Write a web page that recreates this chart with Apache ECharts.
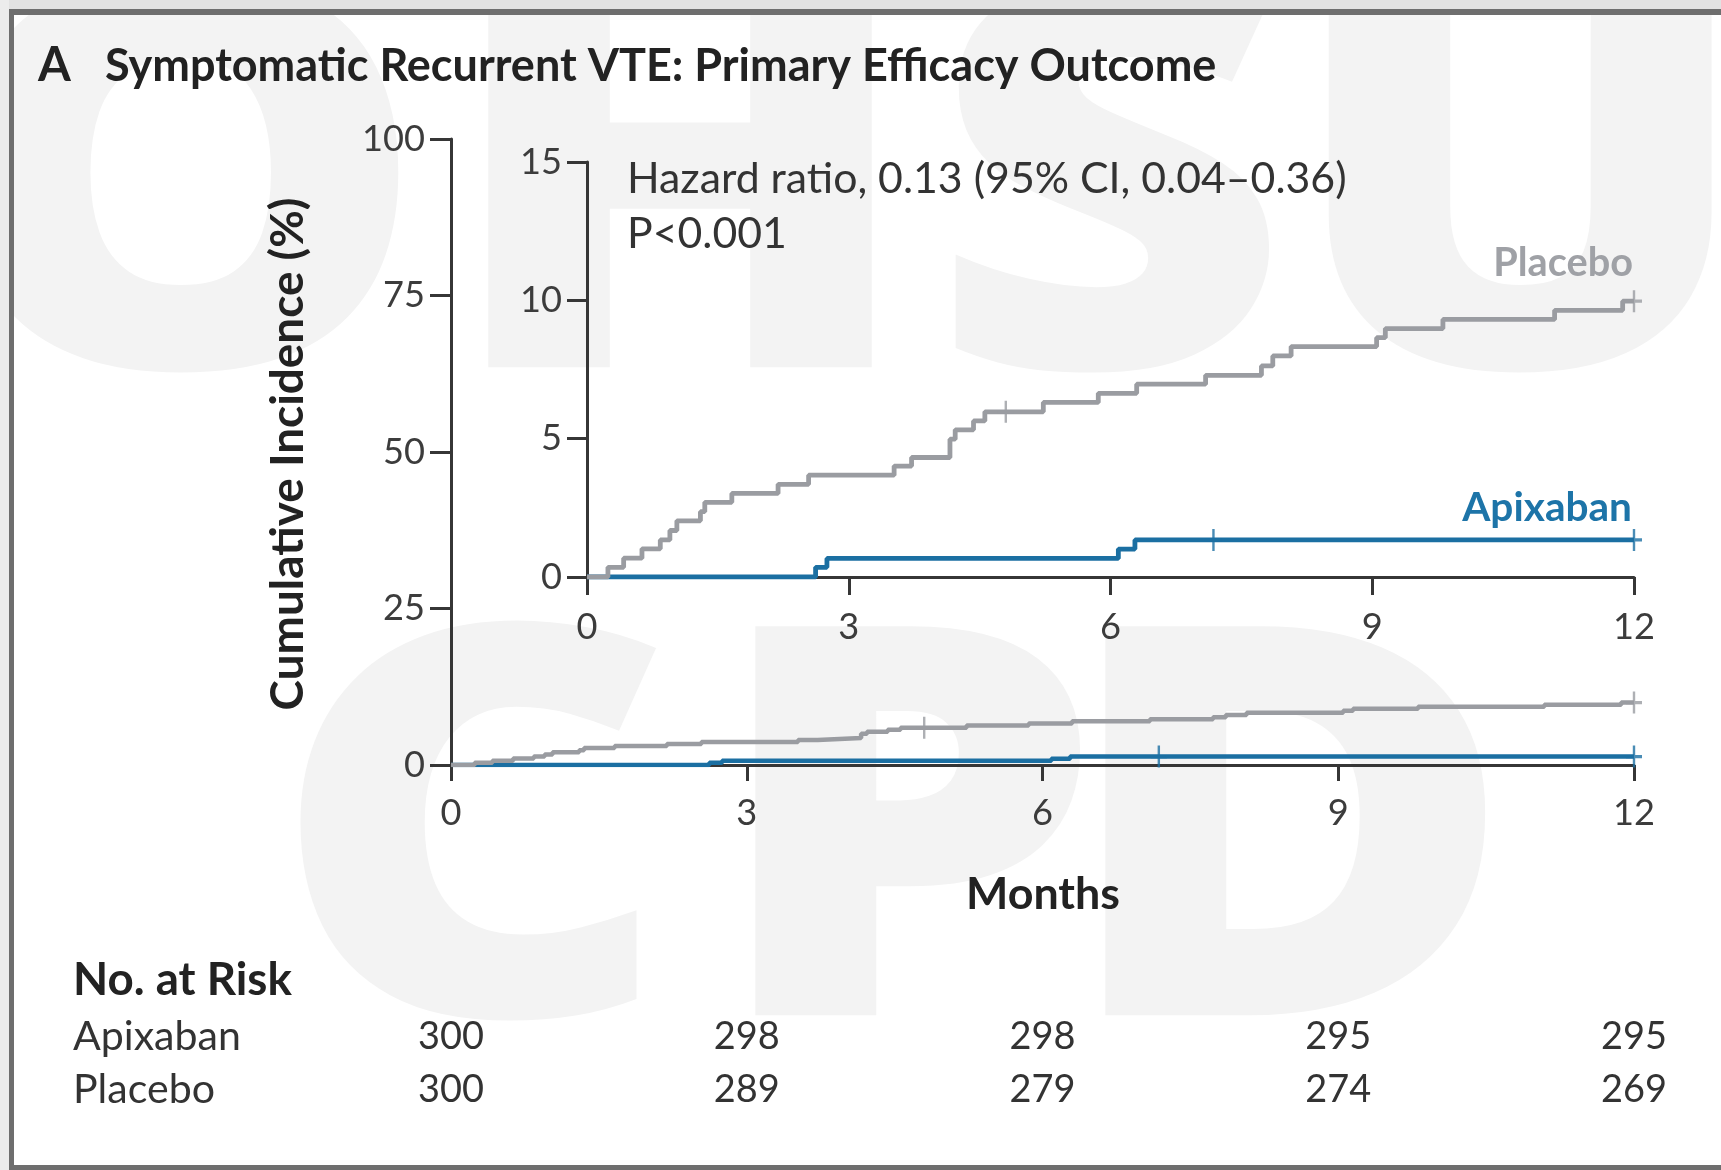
<!DOCTYPE html>
<html><head><meta charset="utf-8">
<script src="https://cdn.jsdelivr.net/npm/echarts@6/dist/echarts.min.js"></script>
<style>html,body{margin:0;padding:0;background:#fff}#c{width:1721px;height:1170px}</style>
</head><body><div id="c"></div>
<script>
// ---------------- data ----------------
const monthTicks = [0, 3, 6, 9, 12];
const placeboTimes = [0, 0.24, 0.42, 0.63, 0.84, 0.95, 1.03, 1.30, 1.35, 1.66, 2.19, 2.54, 3.52, 3.72, 4.16, 4.22, 4.43, 4.56, 5.23, 5.86, 6.30, 7.09, 7.73, 7.86, 8.07, 9.05, 9.15, 9.81, 11.09, 11.87, 12.0];
const placeboPct   = [0, 0.35, 0.68, 1.02, 1.34, 1.68, 2.03, 2.36, 2.70, 3.02, 3.35, 3.68, 4.01, 4.32, 4.98, 5.32, 5.64, 5.97, 6.31, 6.64, 6.97, 7.29, 7.63, 7.99, 8.33, 8.65, 8.98, 9.31, 9.64, 9.97, 9.97];
const apixabanTimes = [0, 2.62, 2.75, 6.09, 6.28, 12.0];
const apixabanPct   = [0, 0.35, 0.67, 1.01, 1.34, 1.34];
const placeboCensor = [4.80, 12];
const apixabanCensor = [7.18, 12];
const riskRowLabels = ['Apixaban', 'Placebo'];
const apixabanAtRisk = [300, 298, 298, 295, 295];
const placeboAtRisk  = [300, 289, 279, 274, 269];
const mainYMax = 100, mainYStep = 25;
const insetYMax = 15, insetYStep = 5;
const titleLetter = 'A';
const titleText = 'Symptomatic Recurrent VTE: Primary Efficacy Outcome';
const hazardText = 'Hazard ratio, 0.13 (95% CI, 0.04\u20130.36)';
const pText = 'P<0.001';
const yTitle = 'Cumulative Incidence (%)';
const xTitle = 'Months';
const riskTitle = 'No. at Risk';
const watermarkTop = ['O', 'H', 'S', 'U'];
const watermarkBottom = ['C', 'P', 'D'];

// ---------------- style ----------------
const FONT = 'Lato';
const AX = '#363636';
const LC = '#3c3c3c';
const GRAY = '#9a9ca1';
const BLUE = '#1b6fa2';
const ctx = document.createElement('canvas').getContext('2d');
function fit(text, weight, target) {
  ctx.font = weight + ' 100px ' + FONT;
  return +(100 * target / ctx.measureText(text).width).toFixed(1);
}
const tickSize = fit('100', 'normal', 63);
const PLUS = 'path://M-1.2,-11L1.2,-11L1.2,-1.6L8,-1.6L8,1.6L1.2,1.6L1.2,11L-1.2,11L-1.2,1.6L-8,1.6L-8,-1.6L-1.2,-1.6Z';

function pairs(ts, vs) { return ts.map((t, i) => [t, vs[i]]); }
function levelAt(ts, vs, t) { let v = 0; ts.forEach((x, i) => { if (x <= t) v = vs[i]; }); return v; }
function censorData(cs, ts, vs) { return cs.map(t => [t, levelAt(ts, vs, t)]); }

function xAx(gi, tickLen, margin) {
  return { type: 'value', gridIndex: gi, min: 0, max: 12, interval: 3,
    axisLine: { show: true, onZero: false, lineStyle: { color: AX, width: 3 } },
    axisTick: { show: true, length: tickLen, lineStyle: { color: AX, width: 3 } },
    axisLabel: { fontFamily: FONT, fontSize: tickSize, color: LC, margin: margin },
    splitLine: { show: false } };
}
function yAx(gi, max, step, tickLen, margin) {
  return { type: 'value', gridIndex: gi, min: 0, max: max, interval: step,
    axisLine: { show: true, onZero: false, lineStyle: { color: AX, width: 3 } },
    axisTick: { show: true, length: tickLen, lineStyle: { color: AX, width: 3 } },
    axisLabel: { fontFamily: FONT, fontSize: tickSize, color: LC, margin: margin },
    splitLine: { show: false } };
}
function lineS(xi, data, color, z, w) {
  return { type: 'line', xAxisIndex: xi, yAxisIndex: xi, step: 'end', data: data, symbol: 'none',
    lineStyle: { color: color, width: w }, itemStyle: { color: color }, z: z, silent: true, animation: false };
}
function censS(xi, data, color) {
  return { type: 'scatter', xAxisIndex: xi, yAxisIndex: xi, data: data, symbol: PLUS, symbolSize: [16, 22],
    itemStyle: { color: color }, z: 6, silent: true, animation: false };
}

const chart = echarts.init(document.getElementById('c'), null, { renderer: 'canvas' });

const wmStyle = (t, x, y) => ({ type: 'text', z: -100, silent: true, x: x, y: y, scaleX: 1.15, scaleY: 1,
  style: { text: t, fontFamily: 'Open Sans', fontWeight: 800, fontSize: 545, fill: '#f3f3f3', align: 'center', verticalAlign: 'middle' } });

chart.setOption({
  backgroundColor: '#ffffff',
  animation: false,
  grid: [
    { left: 451, top: 139, width: 1183, height: 626 },
    { left: 587, top: 162, width: 1047, height: 415 }
  ],
  xAxis: [xAx(0, 16, 30), xAx(1, 18, 32)],
  yAxis: [yAx(0, mainYMax, mainYStep, 21, 26), yAx(1, insetYMax, insetYStep, 20, 25)],
  series: [
    lineS(0, pairs(apixabanTimes, apixabanPct), BLUE, 3, 4.5),
    lineS(0, pairs(placeboTimes, placeboPct), GRAY, 4, 4.5),
    censS(0, censorData(placeboCensor, placeboTimes, placeboPct), GRAY),
    censS(0, censorData(apixabanCensor, apixabanTimes, apixabanPct), BLUE),
    lineS(1, pairs(apixabanTimes, apixabanPct), BLUE, 3, 4.8),
    lineS(1, pairs(placeboTimes, placeboPct), GRAY, 4, 4.8),
    censS(1, censorData(placeboCensor, placeboTimes, placeboPct), GRAY),
    censS(1, censorData(apixabanCensor, apixabanTimes, apixabanPct), BLUE)
  ]
});

// ---------------- annotations ----------------
const g = [];
// watermark
const wmTopX = [181, 680, 1109, 1520], wmBotX = [472, 905, 1287];
watermarkTop.forEach((l, i) => g.push(wmStyle(l, wmTopX[i], 212)));
watermarkBottom.forEach((l, i) => g.push(wmStyle(l, wmBotX[i], 860)));
// frame
g.push({ type: 'rect', silent: true, z: 50, shape: { x: 0, y: 0, width: 1721, height: 9 }, style: { fill: '#e2e2e2' } });
g.push({ type: 'rect', silent: true, z: 50, shape: { x: 0, y: 0, width: 9, height: 1170 }, style: { fill: '#ececec' } });
g.push({ type: 'rect', silent: true, z: 51, shape: { x: 9, y: 9, width: 1712, height: 6 }, style: { fill: '#6e6e6e' } });
g.push({ type: 'rect', silent: true, z: 51, shape: { x: 9, y: 9, width: 5, height: 1161 }, style: { fill: '#6e6e6e' } });
g.push({ type: 'rect', silent: true, z: 51, shape: { x: 9, y: 1165, width: 1712, height: 5 }, style: { fill: '#6e6e6e' } });

const titleSize = fit(titleText, 'bold', 1111);
function txt(t, x, y, size, weight, color, align, rot) {
  const o = { type: 'text', silent: true, z: 60, x: x, y: y,
    style: { text: t, fontFamily: FONT, fontSize: size, fontWeight: weight, fill: color, align: align || 'left', verticalAlign: 'middle' } };
  if (rot) o.rotation = rot;
  return o;
}
g.push(txt(titleLetter, 38, 66, titleSize * 1.05, 'bold', '#222'));
g.push(txt(titleText, 105, 66, titleSize, 'bold', '#222'));
const hzSize = fit(hazardText, 'normal', 720);
g.push(txt(hazardText, 627, 179, hzSize, 'normal', '#333'));
g.push(txt(pText, 627, 234, hzSize, 'normal', '#333'));
g.push(txt('Placebo', 1633, 263, fit('Placebo', 'bold', 140), 'bold', '#9fa1a6', 'right'));
g.push(txt('Apixaban', 1632, 508, fit('Apixaban', 'bold', 170), 'bold', '#1d74a8', 'right'));
g.push(txt(xTitle, 1043, 895, fit(xTitle, 'bold', 154), 'bold', '#222', 'center'));
g.push(txt(yTitle, 288, 454, fit(yTitle, 'bold', 513), 'bold', '#222', 'center', Math.PI / 2));
// risk table
const rowSize = fit('Apixaban', 'normal', 168);
g.push(txt(riskTitle, 73, 980, fit(riskTitle, 'bold', 219), 'bold', '#222'));
const rowY = [1037, 1090];
const rowVals = [apixabanAtRisk, placeboAtRisk];
const numSize = fit('300', 'normal', 66);
riskRowLabels.forEach((lab, r) => {
  g.push(txt(lab, 73, rowY[r], rowSize, 'normal', '#333'));
  monthTicks.forEach((m, i) => {
    const px = chart.convertToPixel({ xAxisIndex: 0 }, m);
    g.push(txt(String(rowVals[r][i]), px, rowY[r], numSize, 'normal', '#333', 'center'));
  });
});
chart.setOption({ graphic: g });
</script></body></html>
